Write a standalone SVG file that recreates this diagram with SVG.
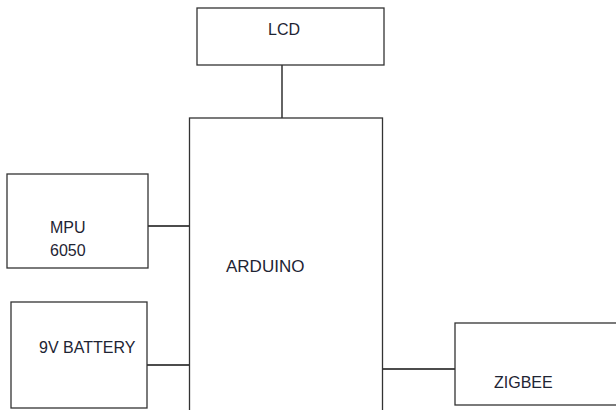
<svg xmlns="http://www.w3.org/2000/svg" width="616" height="410" viewBox="0 0 616 410">
<style>
.box{fill:#fff;stroke:#333;stroke-width:1.3}
.wire{stroke:#111;stroke-width:1.3;fill:none}
.lbl{font-family:"Liberation Sans",Arial,sans-serif;font-size:16px;fill:#1e2433}
</style>
<rect width="616" height="410" fill="#fff"/>
<g id="connectors">
<line class="wire" x1="282" y1="65" x2="282" y2="121"/>
<line class="wire" x1="148" y1="226" x2="190" y2="226"/>
<line class="wire" x1="145" y1="365" x2="190" y2="365"/>
<line class="wire" x1="382" y1="369" x2="455" y2="369"/>
</g>
<g id="lcd">
<rect class="box" x="197" y="8" width="187" height="57"/>
<text class="lbl" x="268" y="35">LCD</text>
</g>
<g id="arduino">
<rect class="box" x="189.5" y="118" width="193" height="300"/>
<text class="lbl" x="226" y="272" style="font-size:17px">ARDUINO</text>
</g>
<g id="mpu">
<rect class="box" x="7" y="174" width="141" height="94"/>
<text class="lbl" x="50" y="233">MPU</text>
<text class="lbl" x="50" y="256">6050</text>
</g>
<g id="battery">
<rect class="box" x="11" y="302" width="136" height="106"/>
<text class="lbl" x="39" y="353">9V BATTERY</text>
</g>
<g id="zigbee">
<rect class="box" x="455" y="323" width="170" height="82"/>
<text class="lbl" x="494" y="388">ZIGBEE</text>
</g>
</svg>
